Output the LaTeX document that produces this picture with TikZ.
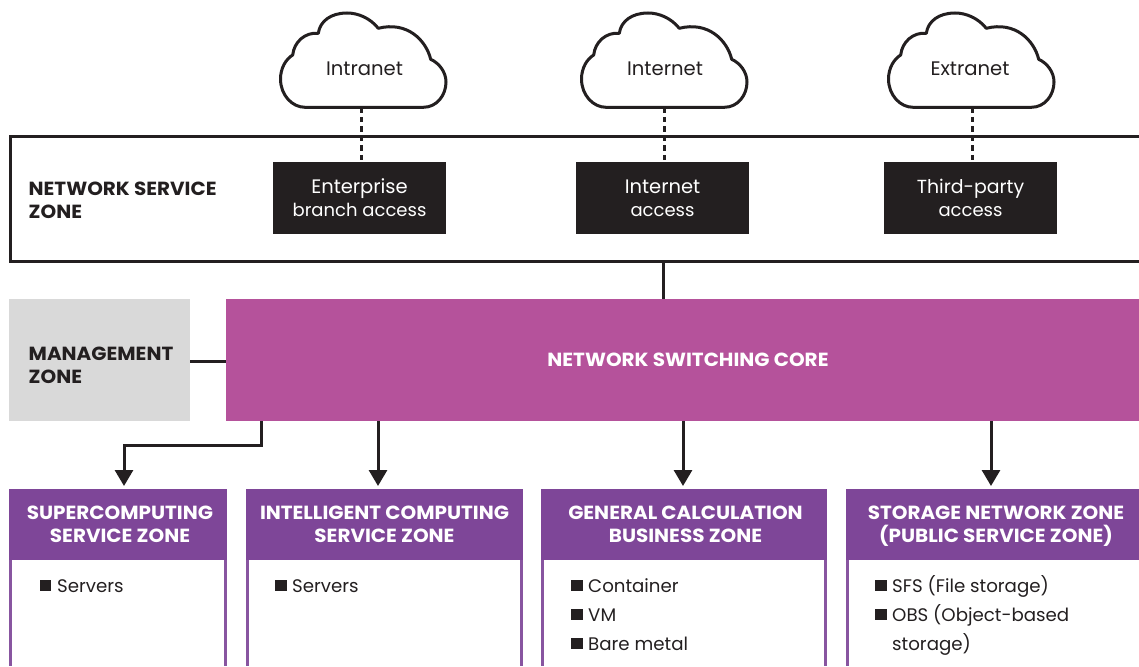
\documentclass[tikz,border=0pt]{standalone}
\usepackage{fontspec}
\setmainfont{Poppins}
\newfontfamily\zonefont[FakeStretch=1.05,UprightFont=* Bold]{Poppins}
\usetikzlibrary{arrows.meta}
\definecolor{ink}{HTML}{231F20}
\definecolor{magentaC}{HTML}{B5529B}
\definecolor{purpleC}{HTML}{7E4698}
\definecolor{greyC}{HTML}{D9D9D9}
\newcommand{\capline}[2][19.5]{{\fontsize{#1}{23}\selectfont #2}}
\tikzset{
 x=1pt,y=-1pt,
 line/.style={draw=ink,line width=3pt},
 dashline/.style={draw=ink,line width=3pt,dash pattern=on 5.5pt off 4pt},
 arrowline/.style={line,-{Triangle[length=16pt,width=18pt]}},
 boxbase/.style={anchor=north west,inner sep=0pt,outer sep=0pt,align=center,font=\fontsize{18}{23}\selectfont},
 blackbox/.style={boxbase,fill=ink,text=white,minimum width=173pt,minimum height=72pt},
 header/.style={boxbase,fill=purpleC,text=white,minimum height=71pt,font=\fontsize{19}{23}\selectfont\zonefont},
 label/.style={anchor=west,inner sep=0pt,align=left,text=ink,font=\fontsize{19}{23}\selectfont\zonefont},
 item/.style={anchor=base west,inner sep=0pt,text=ink,font=\fontsize{18.2}{23}\selectfont},
 cloudtext/.style={anchor=center,inner sep=0pt,text=ink,font=\fontsize{19.6}{23}\selectfont},
 zoneedge/.style={draw=purpleC!92!white,line width=3pt},
}
\newcommand{\cloudpath}[1]{%
 \begin{scope}[xshift=#1pt]
 \draw[line,fill=white,line join=round]
  (305,107.3) -- (423.3,107.3)
  .. controls (437,107.3) and (446,95) .. (446,82)
  .. controls (446,72) and (439,63) .. (430.7,59.3)
  .. controls (426,40) and (407,21) .. (378.3,28.3)
  .. controls (370,18) and (358,13) .. (347,13)
  .. controls (331,13) and (320,21) .. (318.3,33.3)
  .. controls (305,32) and (294,42) .. (292.7,55)
  .. controls (286,59) and (280.5,68) .. (280.5,79)
  .. controls (280.5,95) and (292,107.3) .. (305,107.3) -- cycle;
 \end{scope}}
\newcommand{\bulletat}[2]{\fill[ink] (#1,#2-5.5) rectangle (#1+11.5,#2+5.5);}
\begin{document}
\begin{tikzpicture}
\useasboundingbox (0,0) rectangle (1139,666);
% clouds
\cloudpath{0}\cloudpath{301}\cloudpath{608}
\node[cloudtext] (c1) at (364.5,69) {Intranet};
\node[cloudtext] (c2) at (665,69) {Internet};
\node[cloudtext] (c3) at (970,69) {Extranet};
\coordinate (cb1) at (361,107.3);
\coordinate (cb2) at (664,107.3);
\coordinate (cb3) at (972,107.3);
% service zone
\node[boxbase,minimum width=1129pt,minimum height=125pt] (svc) at (10,136) {};
\draw[line] (1139,136) -- (svc.north west) -- (svc.south west) -- (1139,261);
\node[label] (svct) at (28.5,200) {NETWORK SERVICE\\ZONE};
\node[blackbox] (b1) at (273,162) {\capline{Enterprise}\\branch access};
\node[blackbox] (b2) at (576,162) {\capline{Internet}\\access};
\node[blackbox] (b3) at (884,162) {\capline[18.9]{Third-party}\\access};
\draw[dashline] (cb1) -- (cb1 |- b1.north);
\draw[dashline] (cb2) -- (cb2 |- b2.north);
\draw[dashline] (cb3) -- (cb3 |- b3.north);
% management + core
\node[boxbase,fill=greyC,minimum width=181pt,minimum height=122pt] (mgmt) at (9,299) {};
\node[label] (mgmtt) at (28.5,365) {MANAGEMENT\\ZONE};
\node[boxbase,fill=magentaC,text=white,minimum width=913pt,minimum height=122pt,font=\fontsize{19}{23}\selectfont\zonefont] (core) at (226,299) {\hspace*{11pt}\raisebox{1.5pt}{NETWORK SWITCHING CORE}};
\coordinate (s0) at (663,261);
\draw[line] (s0) -- (s0 |- core.north);
\draw[line] (mgmt.east |- 0,361) -- (core.west |- 0,361);
% zones
\node[header,minimum width=218pt] (z1) at (9,489) {\hspace*{4pt}SUPERCOMPUTING\\\hspace*{4pt}SERVICE ZONE};
\node[header,minimum width=277pt] (z2) at (246,489) {INTELLIGENT COMPUTING\\SERVICE ZONE};
\node[header,minimum width=286pt] (z3) at (541,489) {\hspace*{3pt}GENERAL CALCULATION\\\hspace*{3pt}BUSINESS ZONE};
\node[header,minimum width=293pt] (z4) at (846,489) {\hspace*{7pt}STORAGE NETWORK ZONE\\\hspace*{7pt}\smash{(PUBLIC SERVICE ZONE)}};
\draw[zoneedge] (10.5,560) -- (10.5,666) (225.5,560) -- (225.5,666);
\draw[zoneedge] (247.5,560) -- (247.5,666) (521.5,560) -- (521.5,666);
\draw[zoneedge] (542.5,560) -- (542.5,666) (825.5,560) -- (825.5,666);
\draw[zoneedge] (847.5,560) -- (847.5,666);
% arrows
\coordinate (a1) at (261,421);
\draw[arrowline,line join=miter] (a1) -- (261,445.5) -- (124,445.5) -- (124,486);
\coordinate (a2) at (378,421);
\coordinate (a3) at (683,421);
\coordinate (a4) at (991,421);
\draw[arrowline] (a2) -- (378,486);
\draw[arrowline] (a3) -- (683,486);
\draw[arrowline] (a4) -- (991,486);
% items
\bulletat{39.5}{585.5}
\node[item] (i1) at (57,592) {Servers};
\bulletat{275}{585.5}
\node[item] (i2) at (292,592) {Servers};
\bulletat{571}{585.5}
\node[item] (i3) at (588,592) {Container};
\bulletat{571}{614}
\node[item] (i4) at (588,621) {VM};
\bulletat{571}{643}
\node[item] (i5) at (588,650) {Bare metal};
\bulletat{875}{585.5}
\node[item] (i6) at (892,592) {SFS (File storage)};
\bulletat{875}{614}
\node[item] (i7) at (892,621) {OBS (Object-based};
\node[item] (i8) at (892,650) {storage)};
\end{tikzpicture}
\end{document}
